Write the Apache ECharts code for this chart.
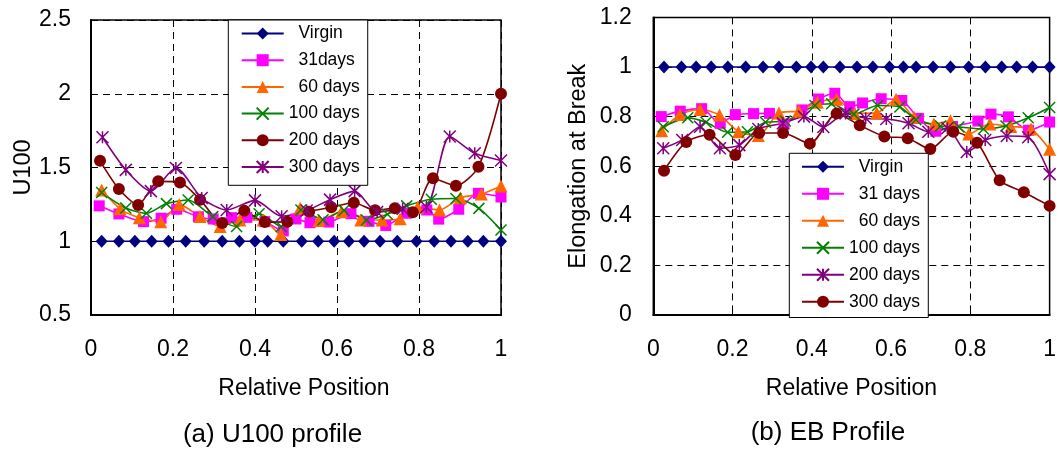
<!DOCTYPE html>
<html><head><meta charset="utf-8">
<script src="https://cdn.jsdelivr.net/npm/echarts@6/dist/echarts.min.js"></script>
<style>html,body{margin:0;padding:0;background:#fff}#c{width:1059px;height:451px}</style>
</head><body><div id="c"></div>
<script>
// ---------- tick labels ----------
const xTicks = [0, 0.2, 0.4, 0.6, 0.8, 1];
const yTicksA = [0.5, 1, 1.5, 2, 2.5];
const yTicksB = [0, 0.2, 0.4, 0.6, 0.8, 1, 1.2];

// ---------- (a) U100 profile ----------
const namesA = ['Virgin', '31days', '60 days', '100 days', '200 days', '300 days'];
const virginA_x = [0.026,0.068,0.107,0.148,0.189,0.231,0.276,0.320,0.362,0.400,0.431,0.469,0.514,0.554,0.593,0.629,0.666,0.705,0.747,0.794,0.837,0.878,0.919,0.957,1.0];
const virginA_y = [1,1,1,1,1,1,1,1,1,1,1,1,1,1,1,1,1,1,1,1,1,1,1,1,1];
const d31A_x = [0.02,0.068,0.128,0.171,0.209,0.262,0.298,0.343,0.38,0.424,0.469,0.5,0.534,0.58,0.634,0.678,0.719,0.77,0.819,0.848,0.897,0.945,1.0];
const d31A_y = [1.24,1.185,1.133,1.156,1.217,1.166,1.151,1.16,1.162,1.133,1.07,1.151,1.126,1.13,1.187,1.135,1.107,1.19,1.212,1.15,1.217,1.325,1.30];
const d60A_x = [0.026,0.071,0.118,0.17,0.215,0.266,0.315,0.363,0.42,0.463,0.51,0.556,0.611,0.658,0.71,0.754,0.797,0.85,0.901,0.952,1.0];
const d60A_y = [1.347,1.22,1.16,1.133,1.25,1.167,1.10,1.144,1.144,1.045,1.223,1.14,1.2,1.144,1.144,1.153,1.23,1.212,1.295,1.32,1.375];
const d100A_x = [0.026,0.085,0.135,0.184,0.237,0.297,0.355,0.41,0.464,0.512,0.566,0.617,0.672,0.723,0.77,0.83,0.89,0.946,1.0];
const d100A_y = [1.33,1.225,1.19,1.255,1.28,1.167,1.10,1.187,1.1,1.212,1.146,1.21,1.144,1.183,1.24,1.285,1.29,1.223,1.076];
const d200A_x = [0.022,0.068,0.115,0.164,0.217,0.266,0.32,0.374,0.424,0.479,0.532,0.586,0.641,0.693,0.741,0.785,0.834,0.89,0.945,1.0];
const d200A_y = [1.545,1.354,1.246,1.406,1.398,1.282,1.124,1.206,1.13,1.133,1.2,1.23,1.261,1.21,1.223,1.196,1.427,1.376,1.505,2.0];
const d300A_x = [0.028,0.085,0.146,0.207,0.27,0.331,0.4,0.465,0.526,0.583,0.643,0.698,0.76,0.818,0.875,0.936,1.0];
const d300A_y = [1.705,1.484,1.34,1.497,1.293,1.212,1.277,1.17,1.208,1.282,1.34,1.198,1.22,1.232,1.71,1.596,1.548];

// ---------- (b) EB profile ----------
const namesB = ['Virgin', '31 days', '60 days', '100 days', '200 days', '300 days'];
const virginB_x = [0.027,0.071,0.108,0.146,0.188,0.233,0.277,0.317,0.361,0.398,0.429,0.471,0.514,0.554,0.596,0.631,0.663,0.706,0.75,0.796,0.838,0.879,0.917,0.957,1.0];
const virginB_y = [1,1,1,1,1,1,1,1,1,1,1,1,1,1,1,1,1,1,1,1,1,1,1,1,1];
const d31B_x = [0.02,0.068,0.122,0.169,0.207,0.253,0.293,0.33,0.375,0.417,0.458,0.496,0.528,0.575,0.627,0.669,0.713,0.755,0.819,0.852,0.896,0.947,1.0];
const d31B_y = [0.80,0.822,0.832,0.773,0.808,0.812,0.813,0.77,0.827,0.871,0.894,0.84,0.855,0.872,0.865,0.793,0.741,0.76,0.782,0.81,0.799,0.745,0.778];
const d60B_x = [0.021,0.067,0.118,0.167,0.215,0.265,0.317,0.367,0.414,0.4625,0.508,0.564,0.6125,0.658,0.708,0.75,0.796,0.849,0.902,0.953,1.0];
const d60B_y = [0.743,0.808,0.829,0.806,0.739,0.724,0.815,0.823,0.858,0.87,0.813,0.815,0.87,0.797,0.77,0.783,0.73,0.77,0.76,0.75,0.668];
const d100B_x = [0.025,0.087,0.133,0.1875,0.2375,0.283,0.333,0.408,0.45,0.506,0.566,0.622,0.6625,0.725,0.771,0.833,0.89,0.946,1.0];
const d100B_y = [0.759,0.795,0.777,0.737,0.739,0.777,0.782,0.845,0.852,0.81,0.845,0.839,0.787,0.762,0.758,0.75,0.762,0.795,0.837];
const d200B_x = [0.025,0.073,0.118,0.168,0.217,0.265,0.327,0.38,0.429,0.485,0.536,0.588,0.644,0.694,0.742,0.791,0.8375,0.892,0.946,1.0];
const d200B_y = [0.672,0.706,0.759,0.672,0.685,0.75,0.773,0.8,0.758,0.813,0.793,0.79,0.773,0.739,0.753,0.657,0.706,0.722,0.717,0.568];
const d300B_x = [0.027,0.083,0.142,0.207,0.267,0.3275,0.395,0.4625,0.521,0.583,0.642,0.699,0.757,0.817,0.874,0.935,1.0];
const d300B_y = [0.582,0.698,0.727,0.645,0.734,0.734,0.691,0.812,0.765,0.72,0.713,0.669,0.739,0.695,0.543,0.495,0.44];

// ---------- styling ----------
const FONT = '"Liberation Sans", Arial, Helvetica, sans-serif';
const X_PATH = 'path://M0,0L10,10M10,0L0,10';
const STAR_PATH = 'path://M0,0L10,10M10,0L0,10M5,0L5,10';
const STY = {
  virgin: {color:'#000080', symbol:'diamond', size:[12,13], stroke:false},
  d31:    {color:'#FF00FF', symbol:'rect', size:11, stroke:false},
  d60:    {color:'#FF6600', symbol:'triangle', size:13, stroke:false},
  d100:   {color:'#008000', symbol:X_PATH, size:11, stroke:true},
  circ:   {color:'#800000', symbol:'circle', size:12, stroke:false},
  star:   {color:'#800080', symbol:STAR_PATH, size:12, stroke:true}
};

function zip(xs, ys){ return xs.map((x,i)=>[x, ys[i]]); }
function mk(name, xs, ys, st, g){
  return {
    type:'line', name:name, xAxisIndex:g, yAxisIndex:g,
    data: zip(xs, ys),
    symbol: st.symbol, symbolSize: st.size, smooth: 0.25,
    lineStyle:{color:st.color, width:1.6},
    itemStyle:{color: st.stroke ? 'rgba(0,0,0,0)' : st.color, borderColor: st.color, borderWidth: st.stroke ? 1.5 : 0},
    emphasis:{disabled:true}, animation:false
  };
}
// right-chart series names carry a trailing space so each legend binds to its own grid
const rn = n => n + ' ';

const series = [
  mk(namesA[0], virginA_x, virginA_y, STY.virgin, 0),
  mk(namesA[1], d31A_x, d31A_y, STY.d31, 0),
  mk(namesA[2], d60A_x, d60A_y, STY.d60, 0),
  mk(namesA[3], d100A_x, d100A_y, STY.d100, 0),
  mk(namesA[4], d200A_x, d200A_y, STY.circ, 0),
  mk(namesA[5], d300A_x, d300A_y, STY.star, 0),
  mk(rn(namesB[0]), virginB_x, virginB_y, STY.virgin, 1),
  mk(rn(namesB[1]), d31B_x, d31B_y, STY.d31, 1),
  mk(rn(namesB[2]), d60B_x, d60B_y, STY.d60, 1),
  mk(rn(namesB[3]), d100B_x, d100B_y, STY.d100, 1),
  mk(rn(namesB[4]), d200B_x, d200B_y, STY.star, 1),
  mk(rn(namesB[5]), d300B_x, d300B_y, STY.circ, 1)
];

const padNames = {'Virgin':1,'31days':1,'60 days':1,'31 days':1};
const legendFmt = n => (padNames[n.trim()] ? '  ' : '') + n;

function xAx(g, nameGap, namePad){
  return {
    type:'value', gridIndex:g, min:xTicks[0], max:xTicks[xTicks.length-1], interval:xTicks[1]-xTicks[0],
    name:'Relative Position', nameLocation:'middle', nameGap:nameGap,
    nameTextStyle:{fontFamily:FONT, fontSize:23, color:'#000', padding:namePad},
    axisLine:{show:true, onZero:false, lineStyle:{color:'#000', width:2}},
    axisTick:{show:true, inside:true, length:5, lineStyle:{color:'#000'}},
    axisLabel:{fontFamily:FONT, fontSize:23, color:'#000', margin:23},
    splitLine:{show:true, lineStyle:{color:'#000', type:[7,5], width:1}}
  };
}
function yAx(g, ticks, name, nameGap, margin){
  return {
    type:'value', gridIndex:g, min:ticks[0], max:ticks[ticks.length-1], interval:ticks[1]-ticks[0],
    name:name, nameLocation:'middle', nameGap:nameGap,
    nameTextStyle:{fontFamily:FONT, fontSize:23.5, color:'#000'},
    axisLine:{show:true, onZero:false, lineStyle:{color:'#000', width:2}},
    axisTick:{show:true, inside:true, length:5, lineStyle:{color:'#000'}},
    axisLabel:{fontFamily:FONT, fontSize:23, color:'#000', margin:margin},
    splitLine:{show:true, lineStyle:{color:'#000', type:[7,5], width:1}}
  };
}
function legend(names, left, top, pad, gap){
  return {
    data: names, orient:'vertical', left:left, top:top, padding:pad, itemGap:gap,
    itemWidth:42, itemHeight:15, formatter:legendFmt, selectedMode:false,
    backgroundColor:'#fff', borderColor:'#000', borderWidth:1,
    textStyle:{fontFamily:FONT, fontSize:17.5, color:'#000'}
  };
}

const chart = echarts.init(document.getElementById('c'), null, {renderer:'canvas'});
chart.setOption({
  backgroundColor:'#fff',
  animation:false,
  grid:[
    {left:91, top:20, width:410, height:295, show:true, borderColor:'#000', borderWidth:1.5, backgroundColor:'transparent'},
    {left:653.3, top:17.4, width:400, height:297.6, show:true, borderColor:'#000', borderWidth:1.5, backgroundColor:'transparent'}
  ],
  xAxis:[ xAx(0, 62.5, [0,0,0,16]), xAx(1, 62.5, 0) ],
  yAxis:[ yAx(0, yTicksA, 'U100', 55, 20), yAx(1, yTicksB, 'Elongation at Break', 62.5, 21.5) ],
  legend:[
    legend(namesA, 228.3, 20, [4.5, 8, 9.3, 12.4], 8.7),
    legend(namesB.map(rn), 789.3, 153.3, [4.5, 3.4, 6.7, 11.7], 9)
  ],
  graphic:[
    {type:'text', x:272.5, y:435, style:{text:'(a) U100 profile', font:'26px '+FONT, fill:'#000', textAlign:'center', textVerticalAlign:'middle'}},
    {type:'text', x:828, y:433, style:{text:'(b) EB Profile', font:'26px '+FONT, fill:'#000', textAlign:'center', textVerticalAlign:'middle'}}
  ],
  series: series
});
</script></body></html>
